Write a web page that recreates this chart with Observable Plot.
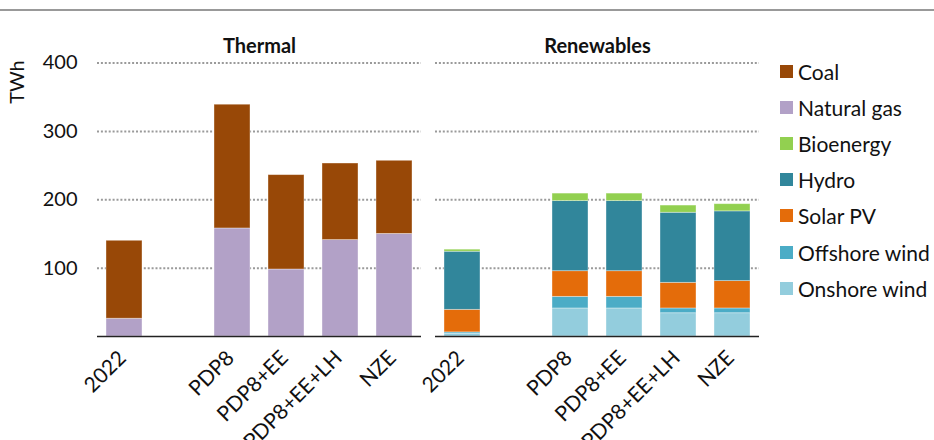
<!DOCTYPE html>
<html>
<head>
<meta charset="utf-8">
<script src="https://cdn.jsdelivr.net/npm/d3@7"></script>
<script src="https://cdn.jsdelivr.net/npm/@observablehq/plot@0.6"></script>
<style>
  html, body { margin: 0; padding: 0; background: #fff; }
  #wrap { position: relative; width: 934px; height: 440px; overflow: hidden; font-family: Lato, "Open Sans", sans-serif; }
  #topline { position: absolute; left: 0; top: 9px; width: 934px; height: 2px; background: #999; }
  #chart { position: absolute; left: 0; top: 0; }
  #legend { position: absolute; left: 780px; top: 53px; }
  .item { height: 36.2px; display: flex; align-items: center; font-size: 21px; color: #111; white-space: nowrap; }
  .sw { width: 13px; height: 13px; margin-right: 5px; flex: none; }
</style>
</head>
<body>
<div id="wrap">
  <div id="topline"></div>
  <div id="chart"></div>
  <div id="legend"></div>
</div>
<script>
// Panels and categories
const panels = ["Thermal", "Renewables"];
const categories = ["2022", "PDP8", "PDP8+EE", "PDP8+EE+LH", "NZE"];
const yTicks = [100, 200, 300, 400];

// Thermal series (TWh)
const naturalGas = [26, 158, 98, 141, 150];
const coal = [114, 181, 138, 112, 107];

// Renewables series (TWh)
const onshoreWind = [4, 41, 41, 34, 34];
const offshoreWind = [2, 17, 17, 7, 7];
const solarPV = [33, 37.5, 37.5, 37.5, 40];
const hydro = [85, 102.5, 102.5, 102.5, 102];
const bioenergy = [3, 11, 11, 10.5, 10.5];

// Legend order and colours
const legendNames = ["Coal", "Natural gas", "Bioenergy", "Hydro", "Solar PV", "Offshore wind", "Onshore wind"];
const legendColors = ["#984807", "#B2A1C7", "#92D050", "#31869B", "#E46C0A", "#4BACC6", "#93CDDD"];

// Build table (stack order bottom -> top)
const series = [
  ["Thermal", "Natural gas", naturalGas],
  ["Thermal", "Coal", coal],
  ["Renewables", "Onshore wind", onshoreWind],
  ["Renewables", "Offshore wind", offshoreWind],
  ["Renewables", "Solar PV", solarPV],
  ["Renewables", "Hydro", hydro],
  ["Renewables", "Bioenergy", bioenergy]
];
const rows = [];
for (const [panel, tech, vals] of series) {
  categories.forEach((c, i) => rows.push({panel, cat: c, tech, value: vals[i]}));
}
const xDomain = [categories[0], " ", ...categories.slice(1)];

const chart = Plot.plot({
  width: 760,
  height: 440,
  marginLeft: 97,
  marginRight: 1,
  marginTop: 62.5,
  marginBottom: 104,
  style: {fontFamily: "Lato, 'Open Sans', sans-serif", fontSize: "20px", color: "#111", background: "transparent"},
  fx: {domain: panels, paddingInner: 0.042, paddingOuter: 0},
  x: {domain: xDomain, paddingInner: 0.34, paddingOuter: 0.15},
  y: {domain: [0, 400]},
  color: {domain: legendNames, range: legendColors},
  marks: [
    Plot.ruleY(yTicks, {stroke: "#9a9a9a", strokeWidth: 2, strokeDasharray: "2,1.9"}),
    Plot.barY(rows, {fx: "panel", x: "cat", y: "value", fill: "tech", stroke: "white", strokeOpacity: 0.45, strokeWidth: 0.8}),
    Plot.ruleY([0], {stroke: "#222", strokeWidth: 1.6}),
    Plot.axisFx({anchor: "top", tickSize: 0, tickPadding: 10, label: null, fontWeight: "bold", fontSize: 20}),
    Plot.axisX({ticks: categories, tickSize: 0, tickRotate: -45, tickPadding: 18, dx: -2, label: null, fontSize: 21}),
    Plot.axisY({ticks: yTicks, tickSize: 0, tickPadding: 20, label: null, fontSize: 20})
  ]
});
document.getElementById("chart").appendChild(chart);

// Y axis unit label
d3.select(chart).append("text")
  .attr("transform", "translate(24,82) rotate(-90)")
  .attr("text-anchor", "middle")
  .attr("font-size", 20)
  .attr("fill", "#111")
  .text("TWh");

// Legend
const legend = d3.select("#legend");
legendNames.forEach((n, i) => {
  const it = legend.append("div").attr("class", "item");
  it.append("div").attr("class", "sw").style("background", legendColors[i]);
  it.append("span").text(n);
});
</script>
</body>
</html>
